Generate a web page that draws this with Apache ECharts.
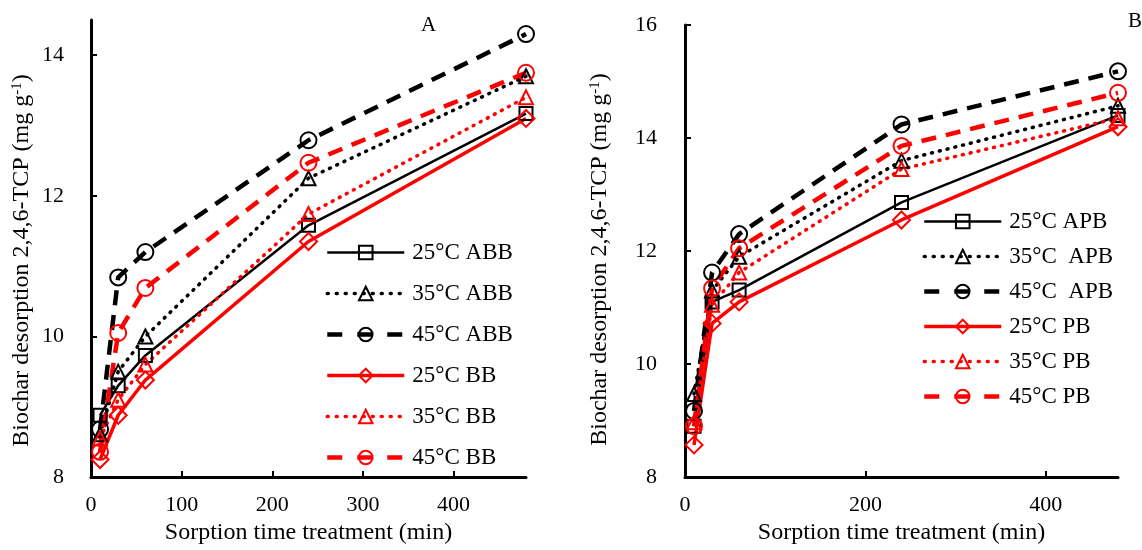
<!DOCTYPE html>
<html>
<head>
<meta charset="utf-8">
<script src="https://cdn.jsdelivr.net/npm/echarts@6/dist/echarts.min.js"></script>
<style>
html,body{margin:0;padding:0;background:#fff;}
#chart{width:1142px;height:550px;}
</style>
</head>
<body>
<div id="chart"></div>
<script>
// ---- data ----
var timesA = [10, 30, 60, 240, 480];
var timesB = [10, 30, 60, 240, 480];

var namesA = ['25\u00B0C ABB', '35\u00B0C ABB', '45\u00B0C ABB', '25\u00B0C BB', '35\u00B0C BB', '45\u00B0C BB'];
var abb25 = [8.88, 9.30, 9.73, 11.58, 13.17];
var abb35 = [8.61, 9.50, 10.00, 12.25, 13.70];
var abb45 = [8.68, 10.84, 11.20, 12.79, 14.30];
var bb25  = [8.25, 8.88, 9.38, 11.35, 13.10];
var bb35  = [8.55, 9.10, 9.60, 11.74, 13.40];
var bb45  = [8.36, 10.05, 10.69, 12.47, 13.75];

var namesB = ['25\u00B0C APB', '35\u00B0C  APB', '45\u00B0C  APB', '25\u00B0C PB', '35\u00B0C PB', '45\u00B0C PB'];
var apb25 = [8.90, 11.10, 11.31, 12.86, 14.40];
var apb35 = [9.47, 11.30, 11.90, 13.60, 14.57];
var apb45 = [9.17, 11.62, 12.30, 14.24, 15.18];
var pb25  = [8.57, 10.72, 11.10, 12.55, 14.20];
var pb35  = [8.97, 11.05, 11.62, 13.45, 14.35];
var pb45  = [8.90, 11.34, 12.05, 13.86, 14.80];

var xTicksA = [0, 100, 200, 300, 400];
var xTicksB = [0, 200, 400];
var yTicksA = [8, 10, 12, 14];
var yTicksB = [8, 10, 12, 14, 16];

// ---- styles ----
var FONT = '"Liberation Serif", "Times New Roman", serif';
var BLACK = '#000000', RED = '#FF0000';
var styles = [
  {color: BLACK, type: 'solid', width: 2.5, symbol: 'rect', size: 13, legendType: 'solid'},
  {color: BLACK, type: [1, 7], width: 3.5, symbol: 'triangle', size: 14, cap: 'round', legendType: [1, 8]},
  {color: BLACK, type: [15, 10], width: 4.5, symbol: 'circle', size: 16, legendType: [15, 15]},
  {color: RED, type: 'solid', width: 3.5, symbol: 'diamond', size: 17, legendType: 'solid'},
  {color: RED, type: [1, 7], width: 3.5, symbol: 'triangle', size: 14, cap: 'round', legendType: [1, 8]},
  {color: RED, type: [15, 10], width: 4.5, symbol: 'circle', size: 16, legendType: [15, 15]}
];

function pairs(xs, ys) {
  return xs.map(function (x, i) { return [x, ys[i]]; });
}

function makeSeries(name, xs, ys, st, idx) {
  return {
    name: name,
    type: 'line',
    xAxisIndex: idx,
    yAxisIndex: idx,
    data: pairs(xs, ys),
    symbol: st.symbol,
    symbolSize: st.size,
    showSymbol: true,
    animation: false,
    lineStyle: {color: st.color, width: st.width, type: st.type, cap: st.cap || 'butt'},
    itemStyle: {color: 'rgba(255,255,255,0)', borderColor: st.color, borderWidth: 2},
    emphasis: {disabled: true}
  };
}

function legendData(names) {
  return names.map(function (n, i) {
    var st = styles[i];
    return {
      name: n,
      lineStyle: {color: st.color, width: st.width, type: st.legendType, cap: st.cap || 'butt'},
      itemStyle: {color: 'rgba(255,255,255,0)', borderColor: st.color, borderWidth: 2}
    };
  });
}

var seriesA = [abb25, abb35, abb45, bb25, bb35, bb45];
var seriesB = [apb25, apb35, apb45, pb25, pb35, pb45];
var series = [];
seriesA.forEach(function (d, i) { series.push(makeSeries(namesA[i], timesA, d, styles[i], 0)); });
seriesB.forEach(function (d, i) { series.push(makeSeries(namesB[i], timesB, d, styles[i], 1)); });

var axisLineStyle = {show: true, lineStyle: {color: '#000', width: 3}};
var labelStyle = {color: '#000', fontFamily: FONT, fontSize: 22};
var yName = '{a|Biochar desorption 2,4,6-TCP (mg g}{s|-1}{a|)}';
function nameStyle(padRight) {
  return {
    color: '#000', fontFamily: FONT, fontSize: 24,
    padding: [0, padRight, 0, 0],
    rich: {
      a: {fontFamily: FONT, fontSize: 24, color: '#000'},
      s: {fontFamily: FONT, fontSize: 15, color: '#000', verticalAlign: 'top', padding: [0, 0, 9, 0]}
    }
  };
}

function xAxis(idx, max, ticks) {
  return {
    type: 'value', gridIndex: idx, min: 0, max: max,
    name: 'Sorption time treatment (min)', nameLocation: 'middle', nameGap: 41,
    nameTextStyle: {color: '#000', fontFamily: FONT, fontSize: 24},
    axisLine: axisLineStyle,
    axisTick: {show: true, inside: true, length: 6, lineStyle: {color: '#000', width: 2}, customValues: ticks},
    axisLabel: Object.assign({margin: 17, customValues: ticks}, labelStyle),
    splitLine: {show: false}
  };
}
function yAxis(idx, min, max, ticks, gap, margin, padRight) {
  return {
    type: 'value', gridIndex: idx, min: min, max: max,
    name: yName, nameLocation: 'middle', nameGap: gap, nameRotate: 90,
    nameTextStyle: nameStyle(padRight),
    axisLine: axisLineStyle,
    axisTick: {show: true, inside: true, length: 6, lineStyle: {color: '#000', width: 2}, customValues: ticks},
    axisLabel: Object.assign({margin: margin, customValues: ticks}, labelStyle),
    splitLine: {show: false}
  };
}

var legendText = {color: '#000', fontFamily: FONT, fontSize: 23, padding: [0, 0, 0, 3]};

var option = {
  backgroundColor: '#ffffff',
  animation: false,
  grid: [
    {left: 91, right: 616, top: 20, bottom: 64},
    {left: 685, right: 24, top: 25, bottom: 62}
  ],
  xAxis: [xAxis(0, 480, xTicksA), xAxis(1, 480, xTicksB)],
  yAxis: [yAxis(0, 8, 14.5, yTicksA, 57, 27, 24), yAxis(1, 8, 16, yTicksB, 73, 28, 17)],
  legend: [
    {data: legendData(namesA), orient: 'vertical', left: 325, top: 241, padding: 0,
     itemWidth: 77, itemHeight: 17, itemGap: 18, textStyle: legendText, selectedMode: false},
    {data: legendData(namesB), orient: 'vertical', left: 922, top: 210, padding: 0,
     itemWidth: 77, itemHeight: 17, itemGap: 12, textStyle: legendText, selectedMode: false}
  ],
  graphic: [
    {type: 'text', left: 421, top: 15, style: {text: 'A', fontFamily: FONT, fontSize: 21, fill: '#000'}},
    {type: 'text', left: 1128, top: 11, style: {text: 'B', fontFamily: FONT, fontSize: 21, fill: '#000'}}
  ],
  series: series
};

var chart = echarts.init(document.getElementById('chart'), null, {renderer: 'canvas'});
chart.setOption(option);
</script>
</body>
</html>
